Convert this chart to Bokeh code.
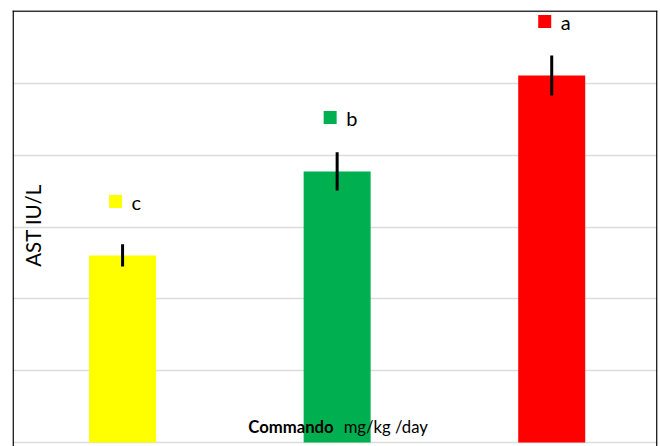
import numpy as np
from bokeh.plotting import figure
from bokeh.models import Range1d, Span, Label, Grid, SingleIntervalTicker
from bokeh.core.properties import value
from bokeh.embed import file_html
from bokeh.resources import INLINE

# ---- data ----
groups = ["c", "b", "a"]                 # significance letters, one per bar
ast_mean = [52.1, 75.5, 102.2]           # AST IU/L
ast_err = [3.1, 5.3, 5.6]
bar_colors = ["#FFFF00", "#00B050", "#FF0000"]
y_tick_step = 20
y_label = "AST IU/L"
x_label_bold = "Commando"
x_label_rest = "mg/kg /day"

xpos = np.arange(len(groups), dtype=float)
mean = np.array(ast_mean)
err = np.array(ast_err)

X0, X1 = -0.513, 2.493
Y0, Y1 = -1.11, 120.3
px_x = 645.0 / (X1 - X0)
px_y = 436.0 / (Y1 - Y0)

p = figure(width=660, height=446, output_backend="svg", toolbar_location=None,
           x_range=Range1d(X0, X1), y_range=Range1d(Y0, Y1),
           x_axis_location=None, y_axis_location=None,
           min_border_left=12, min_border_right=3, min_border_top=10, min_border_bottom=0)
p.outline_line_color = None
for g in p.grid:
    g.visible = False

grid = Grid(dimension=1, ticker=SingleIntervalTicker(interval=y_tick_step),
            grid_line_color="#dcdcdc", grid_line_width=1.3)
p.add_layout(grid, "center")

p.vbar(x=xpos, top=mean, bottom=0, width=67.0 / px_x, fill_color=bar_colors,
       line_color=None)
p.segment(x0=xpos, y0=mean - err, x1=xpos, y1=mean + err, line_color="black",
          line_width=3)

lab_x = xpos - 7.0 / px_x
lab_y = mean + 54.0 / px_y
p.scatter(x=lab_x, y=lab_y, marker="square", size=13, fill_color=bar_colors,
          line_color=None)
p.text(x=lab_x, y=lab_y, text=groups, x_offset=16, y_offset=0.5,
       text_align="left", text_baseline="alphabetic",
       text_font=value("Lato"), text_font_size="20px", text_color="black")

# chart border (left, right, top)
for loc, dim in [(X0 + 0.6 / px_x, "height"), (X1 - 0.6 / px_x, "height"),
                 (Y1 - 0.6 / px_y, "width")]:
    p.add_layout(Span(location=loc, dimension=dim, line_color="black", line_width=1.5))

p.add_layout(Label(x=20, y=221, x_units="screen", y_units="screen", text=y_label,
                   angle=np.pi / 2, text_align="center", text_baseline="alphabetic",
                   text_font="Lato", text_font_size="20.5px", text_color="black"))
p.add_layout(Label(x=1, y=19.5, x_units="data", y_units="screen", text=x_label_bold,
                   x_offset=-3.5, text_align="right", text_baseline="alphabetic",
                   text_font="Lato", text_font_style="bold", text_font_size="16.7px",
                   text_color="black"))
p.add_layout(Label(x=1, y=19.5, x_units="data", y_units="screen", text=x_label_rest,
                   x_offset=6.5, text_align="left", text_baseline="alphabetic",
                   text_font="Lato", text_font_size="16.7px", text_color="black"))

open("out.html", "w").write(file_html(p, INLINE))
